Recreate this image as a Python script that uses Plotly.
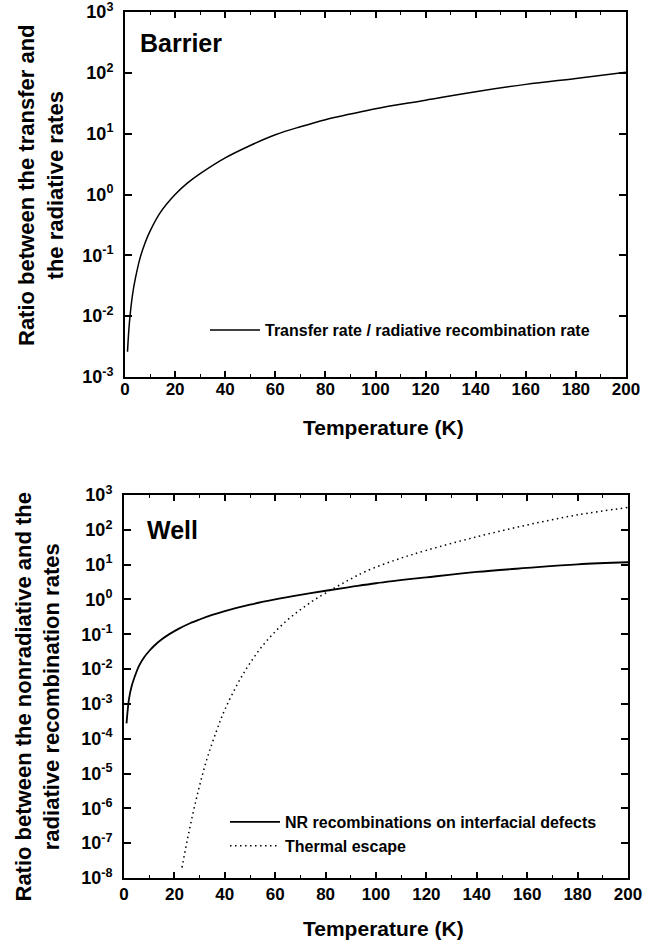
import plotly.graph_objects as go

# ---------------- data ----------------
# Top panel: Barrier
barrier_T = [1, 1.5, 2, 3, 4, 6, 8, 10, 14, 20, 25, 30, 40, 50, 60, 70, 80, 90,
             100, 120, 140, 160, 180, 200]
barrier_ratio = [0.0026, 0.0057, 0.010, 0.0225, 0.039, 0.09, 0.16, 0.25, 0.50, 1.0,
                 1.55, 2.2, 4.0, 6.4, 9.6, 13.0, 17.0, 21.0, 25.7, 35.5, 49.0,
                 64.6, 81.0, 102.0]

# Bottom panel: Well
nr_T = [1, 2, 3, 4, 6, 8, 10, 12, 15, 18, 22, 26, 30, 35, 40, 50, 60, 70, 80, 90,
        100, 120, 140, 160, 180, 200]
nr_ratio = [2.75e-4, 1.41e-3, 3.16e-3, 5.37e-3, 0.0126, 0.0219, 0.0331, 0.0468,
            0.0716, 0.101, 0.148, 0.204, 0.266, 0.359, 0.462, 0.708, 1.0, 1.35,
            1.78, 2.29, 2.92, 4.31, 6.17, 8.04, 10.2, 11.7]

esc_T = [23, 25, 27.5, 30, 33, 36.7, 40, 46, 51, 55, 59, 63, 67, 71, 76, 84, 90,
         96, 108, 120, 140, 160, 180, 200]
esc_ratio = [2.0e-8, 1.12e-7, 7.9e-7, 4.5e-6, 2.75e-5, 1.66e-4, 6.8e-4, 5.0e-3,
             0.019, 0.047, 0.10, 0.195, 0.347, 0.575, 1.02, 2.24, 3.89, 6.46, 13.8,
             25.7, 63.1, 138.0, 269.0, 437.0]

x_ticks = [0, 20, 40, 60, 80, 100, 120, 140, 160, 180, 200]
x_minor = [10, 30, 50, 70, 90, 110, 130, 150, 170, 190]
top_exponents = [-3, -2, -1, 0, 1, 2, 3]
bot_exponents = [-8, -7, -6, -5, -4, -3, -2, -1, 0, 1, 2, 3]

names = {
    "barrier": "Transfer rate / radiative recombination rate",
    "nr": "NR recombinations on interfacial defects",
    "esc": "Thermal escape",
}

# ---------------- figure ----------------
W, H = 658, 945
FONT = "Liberation Sans, Arial, Helvetica, sans-serif"


def xp(px):
    return px / W


def yp(py):
    return 1 - py / H


fig = go.Figure()
fig.add_trace(go.Scatter(x=barrier_T, y=barrier_ratio, mode="lines",
                         name=names["barrier"],
                         line=dict(color="black", width=1.5, shape="spline"),
                         xaxis="x", yaxis="y", legend="legend"))
fig.add_trace(go.Scatter(x=nr_T, y=nr_ratio, mode="lines",
                         name=names["nr"],
                         line=dict(color="black", width=1.8, shape="spline"),
                         xaxis="x2", yaxis="y2", legend="legend2"))
fig.add_trace(go.Scatter(x=esc_T, y=esc_ratio, mode="lines",
                         name=names["esc"],
                         line=dict(color="black", width=1.5, shape="spline",
                                   dash="1.5px,3.5px"),
                         xaxis="x2", yaxis="y2", legend="legend2"))


def sup(e):
    return "10<sup>%d</sup>" % e


def x_axis(domain, anchor, standoff):
    return dict(domain=domain, anchor=anchor, range=[0, 200],
                tickvals=x_ticks, ticktext=[str(v) for v in x_ticks],
                ticks="inside", ticklen=6, tickwidth=1.5, tickcolor="black",
                minor=dict(tickvals=x_minor, ticks="inside", ticklen=3,
                           tickwidth=1.2, tickcolor="black"),
                showline=True, linewidth=2, linecolor="black", mirror="allticks",
                showgrid=False, zeroline=False, automargin=False,
                ticklabelstandoff=standoff, ticklabeloverflow="allow",
                tickfont=dict(family=FONT, size=17, color="black", weight="bold"))


def y_axis(domain, anchor, exps):
    return dict(domain=domain, anchor=anchor, type="log",
                range=[exps[0], exps[-1] + 0.0001],
                tickvals=[10.0 ** e for e in exps], ticktext=[sup(e) for e in exps],
                ticks="inside", ticklen=7, tickwidth=1.5, tickcolor="black",
                showline=True, linewidth=2, linecolor="black", mirror="allticks",
                showgrid=False, zeroline=False, automargin=False, ticklabelstandoff=6,
                ticklabeloverflow="allow",
                tickfont=dict(family=FONT, size=18, color="black", weight="bold"))


legend_font = dict(family=FONT, size=16, color="black", weight="bold")

fig.update_layout(
    width=W, height=H,
    margin=dict(l=0, r=0, t=0, b=0),
    paper_bgcolor="white", plot_bgcolor="white",
    font=dict(family=FONT, color="black"),
    xaxis=x_axis([xp(125), xp(626)], "y", -4),
    yaxis=y_axis([yp(377), yp(12)], "x", top_exponents),
    xaxis2=x_axis([xp(124), xp(628)], "y2", 0),
    yaxis2=y_axis([yp(878), yp(495)], "x2", bot_exponents),
    legend=dict(x=xp(205), y=yp(330), xanchor="left", yanchor="middle",
                bgcolor="rgba(0,0,0,0)", borderwidth=0, itemwidth=50,
                font=legend_font),
    legend2=dict(x=xp(225), y=yp(834), xanchor="left", yanchor="middle",
                 bgcolor="rgba(0,0,0,0)", borderwidth=0, tracegroupgap=0,
                 itemwidth=50, font=legend_font),
    showlegend=True,
)

ann_font = dict(family=FONT, color="black", weight="bold")
annotations = [
    dict(text="Barrier", x=xp(138), y=yp(43), xanchor="left", yanchor="middle",
         font=dict(size=25, **ann_font)),
    dict(text="Well", x=xp(145), y=yp(530), xanchor="left", yanchor="middle",
         font=dict(size=25, **ann_font)),
    dict(text="Temperature (K)", x=xp(383), y=yp(427), xanchor="center",
         yanchor="middle", font=dict(size=21, **ann_font)),
    dict(text="Temperature (K)", x=xp(383), y=yp(928), xanchor="center",
         yanchor="middle", font=dict(size=21, **ann_font)),
    dict(text="Ratio between the transfer and<br>the radiative rates", textangle=-90,
         x=xp(41), y=yp(185), xanchor="center", yanchor="middle",
         font=dict(size=22, **ann_font)),
    dict(text="Ratio between the nonradiative and the<br>radiative recombination rates",
         textangle=-90, x=xp(37.5), y=yp(697), xanchor="center", yanchor="middle",
         font=dict(size=22, **ann_font)),
]
for a in annotations:
    a.update(xref="paper", yref="paper", showarrow=False)
fig.update_layout(annotations=annotations)

# remove the default 8px page margin so the figure fills the window exactly
fig.write_html("out.html", config={"displayModeBar": False},
               post_script="document.body.style.margin='0';"
                           "document.body.style.overflow='hidden';")
